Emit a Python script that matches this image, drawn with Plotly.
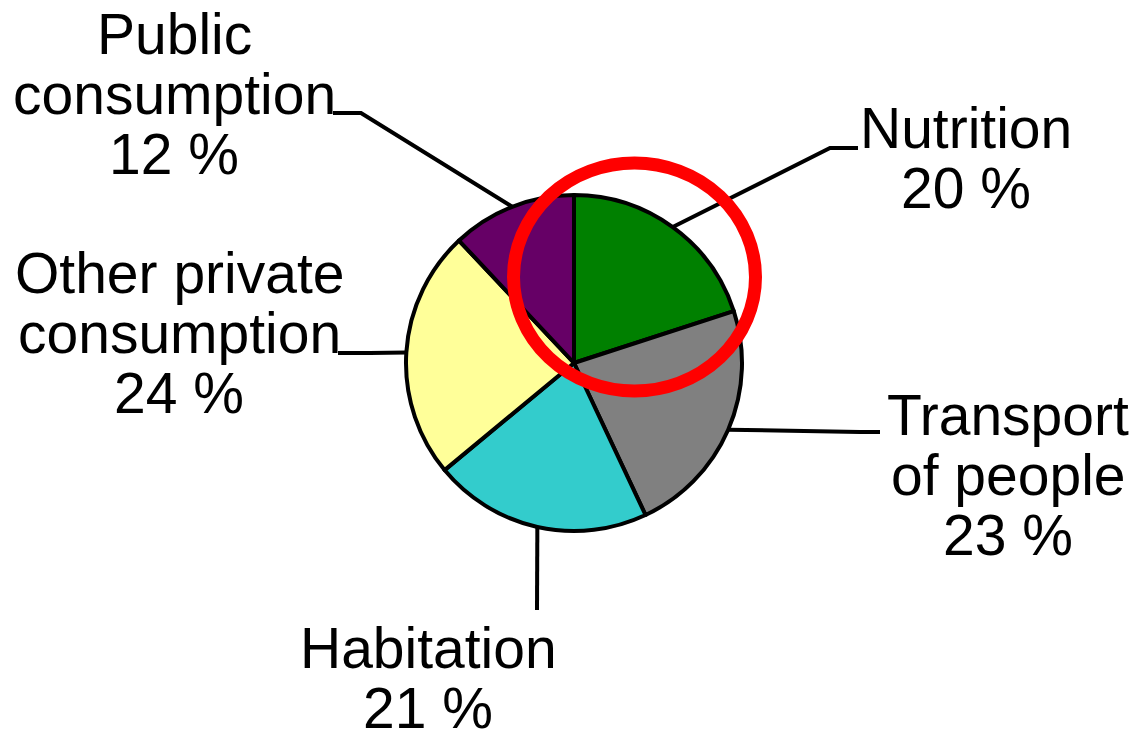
import math
import plotly.graph_objects as go

# ---- data ----
categories = ["Nutrition", "Transport of people", "Habitation",
              "Other private consumption", "Public consumption"]
values = [20, 23, 21, 24, 12]
label_lines = [["Nutrition"], ["Transport", "of people"], ["Habitation"],
               ["Other private", "consumption"], ["Public", "consumption"]]
colors = ["#008000", "#808080", "#33CCCC", "#FFFF99", "#660066"]

# ---- layout constants (screen pixels, origin top-left) ----
W, H = 1136, 741
cx, cy, R = 574, 363, 168
FONT = 57
# label text centre x, first baseline y, line gap
label_pos = [(966, 148, 60), (1008, 435, 60), (428, 668, 60),
             (179, 293, 60), (174, 54, 60)]
# leader-line points after leaving the slice edge
leader_pts = [[(830, 148), (858, 148)],
              [(860, 432), (880, 432)],
              [(537, 610)],
              [(370, 353), (338, 353)],
              [(361, 113), (333, 113)]]


def px(x):
    return x / W


def py(y):
    return 1 - y / H


fig = go.Figure(go.Pie(
    values=values, labels=categories, sort=False, direction="clockwise",
    rotation=0, textinfo="none", hoverinfo="label+percent", showlegend=False,
    marker=dict(colors=colors, line=dict(color="black", width=4)),
    domain=dict(x=[px(cx - R), px(cx + R)], y=[py(cy + R), py(cy - R)]),
))

total = sum(values)
shapes = []
annotations = []
cum = 0
for i, v in enumerate(values):
    theta = 2 * math.pi * (cum + v / 2) / total
    cum += v
    ex, ey = cx + R * math.sin(theta), cy - R * math.cos(theta)
    pts = [(ex, ey)] + leader_pts[i]
    path = "M " + " L ".join(f"{px(x):.5f},{py(y):.5f}" for x, y in pts)
    shapes.append(dict(type="path", xref="paper", yref="paper", path=path,
                       line=dict(color="black", width=4), layer="below"))
    tx, by, gap = label_pos[i]
    lines = label_lines[i] + [f"{v} %"]
    for k, t in enumerate(lines):
        annotations.append(dict(
            text=t, xref="paper", yref="paper", x=px(tx),
            y=py(by + k * gap - 0.3465 * FONT),
            xanchor="center", yanchor="middle", showarrow=False,
            borderpad=0,
            font=dict(family="Liberation Sans, Arial, sans-serif", size=FONT,
                      color="black")))

# red highlight ring
rcx, rcy, rrx, rry = 634.5, 277, 121, 114
shapes.append(dict(type="circle", xref="paper", yref="paper",
                   x0=px(rcx - rrx), x1=px(rcx + rrx),
                   y0=py(rcy + rry), y1=py(rcy - rry),
                   line=dict(color="#FF0000", width=13)))

fig.update_layout(width=W, height=H, margin=dict(l=0, r=0, t=0, b=0),
                  paper_bgcolor="white", plot_bgcolor="white",
                  shapes=shapes, annotations=annotations)

fig.write_html("out.html", config={"displayModeBar": False},
               post_script="document.body.style.margin='0';"
                           "document.body.style.overflow='hidden';")
